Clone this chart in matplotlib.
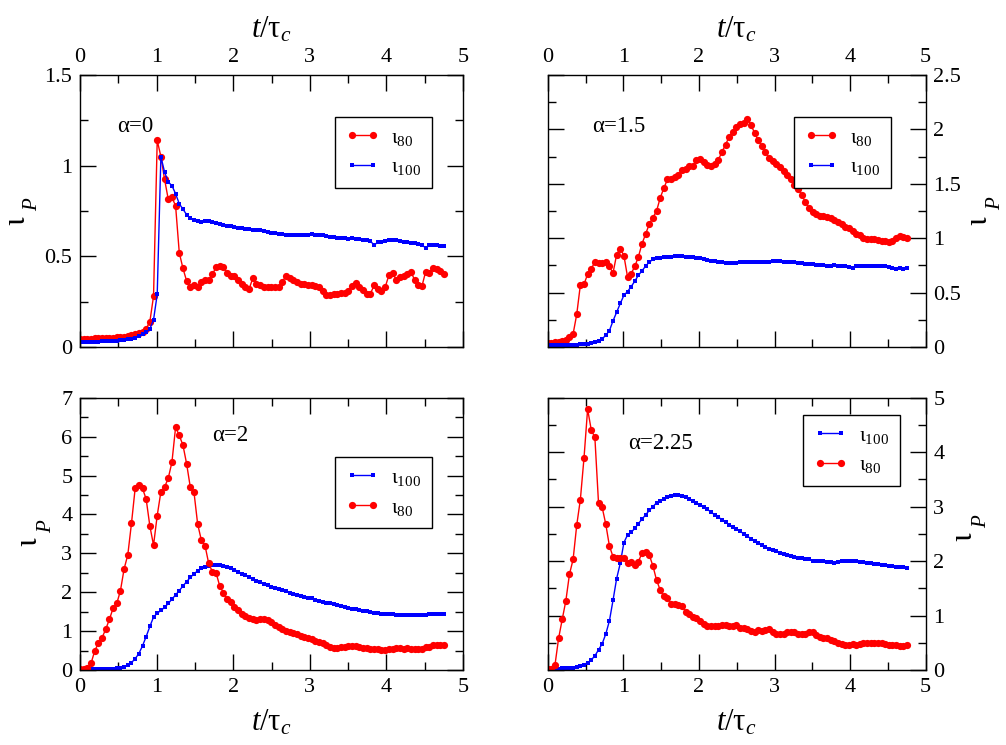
import numpy as np
import matplotlib
matplotlib.use('Agg')
import matplotlib.pyplot as plt
from matplotlib.ticker import MultipleLocator, FuncFormatter

plt.rcParams['font.family'] = ['Liberation Serif', 'DejaVu Serif']
plt.rcParams['mathtext.fontset'] = 'custom'
plt.rcParams['mathtext.rm'] = 'Liberation Serif'
plt.rcParams['mathtext.it'] = 'Liberation Serif:italic'
plt.rcParams['mathtext.bf'] = 'Liberation Serif:bold'

# time step of the samples (t / tau_c)
DT = 0.048

# ---------------- alpha = 0 ----------------
a0_i80 = [0.045, 0.045, 0.046, 0.046, 0.047, 0.047, 0.048, 0.049, 0.050, 0.051,
          0.053, 0.055, 0.057, 0.060, 0.064, 0.070, 0.078, 0.085, 0.10, 0.14,
          0.28, 1.14, 1.05, 0.925, 0.815, 0.826, 0.778, 0.52, 0.434, 0.364,
          0.333, 0.34, 0.33, 0.36, 0.37, 0.37, 0.40, 0.44, 0.445, 0.44,
          0.41, 0.39, 0.39, 0.37, 0.35, 0.33, 0.32, 0.38, 0.35, 0.34,
          0.33, 0.33, 0.33, 0.33, 0.33, 0.36, 0.39, 0.38, 0.37, 0.36,
          0.35, 0.345, 0.34, 0.34, 0.335, 0.33, 0.31, 0.285, 0.285, 0.29,
          0.295, 0.30, 0.30, 0.31, 0.335, 0.355, 0.33, 0.315, 0.295, 0.295,
          0.34, 0.32, 0.31, 0.33, 0.395, 0.41, 0.37, 0.385, 0.39, 0.405,
          0.415, 0.37, 0.34, 0.335, 0.415, 0.41, 0.435, 0.43, 0.42, 0.40]
a0_i100 = [0.028, 0.028, 0.029, 0.029, 0.030, 0.030, 0.031, 0.032, 0.033, 0.034,
           0.035, 0.037, 0.039, 0.042, 0.046, 0.052, 0.060, 0.070, 0.08, 0.10,
           0.15, 0.29, 1.05, 0.965, 0.91, 0.89, 0.845, 0.79, 0.76, 0.73,
           0.71, 0.70, 0.695, 0.69, 0.695, 0.695, 0.69, 0.685, 0.68, 0.675,
           0.67, 0.665, 0.66, 0.655, 0.655, 0.65, 0.65, 0.645, 0.645, 0.645,
           0.64, 0.635, 0.63, 0.63, 0.625, 0.625, 0.62, 0.62, 0.615, 0.615,
           0.615, 0.615, 0.62, 0.625, 0.62, 0.615, 0.615, 0.61, 0.605, 0.605,
           0.60, 0.60, 0.60, 0.595, 0.60, 0.595, 0.595, 0.59, 0.59, 0.585,
           0.56, 0.58, 0.58, 0.585, 0.59, 0.59, 0.59, 0.585, 0.58, 0.58,
           0.575, 0.575, 0.57, 0.565, 0.545, 0.56, 0.56, 0.56, 0.555, 0.555]

# ---------------- alpha = 1.5 ----------------
a15_i80 = [0.04, 0.04, 0.045, 0.05, 0.055, 0.065, 0.09, 0.12, 0.30, 0.57,
           0.575, 0.67, 0.72, 0.78, 0.77, 0.77, 0.78, 0.74, 0.68, 0.85,
           0.905, 0.84, 0.645, 0.675, 0.74, 0.83, 0.95, 1.04, 1.13, 1.19,
           1.25, 1.37, 1.46, 1.54, 1.545, 1.56, 1.58, 1.625, 1.64, 1.665,
           1.66, 1.72, 1.73, 1.70, 1.67, 1.665, 1.68, 1.72, 1.79, 1.86,
           1.93, 1.98, 2.02, 2.05, 2.06, 2.10, 2.04, 1.97, 1.90, 1.85,
           1.79, 1.74, 1.71, 1.68, 1.65, 1.62, 1.58, 1.54, 1.49, 1.45,
           1.40, 1.33, 1.28, 1.24, 1.22, 1.20, 1.20, 1.195, 1.19, 1.17,
           1.15, 1.13, 1.105, 1.09, 1.065, 1.04, 1.03, 1.005, 0.99, 0.99,
           0.99, 0.98, 0.975, 0.97, 0.966, 0.975, 1.005, 1.02, 1.01, 1.00]
a15_i100 = [0.02, 0.02, 0.02, 0.02, 0.02, 0.021, 0.021, 0.022, 0.022, 0.023,
            0.025, 0.028, 0.033, 0.042, 0.055, 0.075, 0.107, 0.15, 0.24, 0.32,
            0.40, 0.475, 0.51, 0.555, 0.605, 0.66, 0.70, 0.745, 0.78, 0.805,
            0.815, 0.82, 0.825, 0.828, 0.83, 0.832, 0.832, 0.832, 0.83, 0.83,
            0.825, 0.82, 0.815, 0.81, 0.80, 0.795, 0.79, 0.785, 0.78, 0.775,
            0.775, 0.775, 0.775, 0.778, 0.78, 0.78, 0.78, 0.78, 0.782, 0.782,
            0.785, 0.785, 0.787, 0.787, 0.787, 0.785, 0.783, 0.78, 0.778, 0.775,
            0.77, 0.765, 0.76, 0.76, 0.755, 0.75, 0.75, 0.748, 0.745, 0.75,
            0.748, 0.745, 0.74, 0.735, 0.73, 0.74, 0.745, 0.745, 0.742, 0.74,
            0.74, 0.742, 0.745, 0.74, 0.732, 0.725, 0.72, 0.725, 0.72, 0.722]

# ---------------- alpha = 2 ----------------
a2_i80 = [0.03, 0.02, 0.04, 0.17, 0.49, 0.69, 0.83, 1.05, 1.30, 1.59,
          1.71, 2.04, 2.60, 2.96, 3.77, 4.67, 4.76, 4.67, 4.39, 3.70,
          3.21, 3.97, 4.58, 4.70, 4.93, 5.34, 6.24, 6.03, 5.78, 5.30,
          4.70, 4.57, 3.75, 3.34, 3.20, 2.74, 2.53, 2.50, 2.16, 1.99,
          1.82, 1.74, 1.63, 1.53, 1.43, 1.39, 1.33, 1.30, 1.29, 1.30,
          1.30, 1.29, 1.24, 1.16, 1.11, 1.05, 1.00, 0.98, 0.94, 0.92,
          0.88, 0.86, 0.81, 0.79, 0.75, 0.73, 0.69, 0.64, 0.60, 0.57,
          0.56, 0.58, 0.60, 0.62, 0.62, 0.62, 0.60, 0.57, 0.56, 0.54,
          0.53, 0.53, 0.51, 0.51, 0.53, 0.55, 0.57, 0.57, 0.55, 0.57,
          0.55, 0.53, 0.53, 0.55, 0.58, 0.60, 0.63, 0.64, 0.65, 0.64]
a2_i100 = [0.02, 0.02, 0.02, 0.02, 0.02, 0.025, 0.025, 0.03, 0.03, 0.035,
           0.04, 0.05, 0.08, 0.12, 0.19, 0.29, 0.42, 0.62, 0.86, 1.12,
           1.36, 1.46, 1.53, 1.61, 1.71, 1.82, 1.93, 2.04, 2.16, 2.27,
           2.38, 2.47, 2.55, 2.61, 2.65, 2.68, 2.70, 2.70, 2.70, 2.68,
           2.655, 2.625, 2.58, 2.53, 2.48, 2.43, 2.39, 2.34, 2.30, 2.26,
           2.22, 2.18, 2.14, 2.11, 2.08, 2.05, 2.02, 1.99, 1.96, 1.93,
           1.91, 1.88, 1.86, 1.84, 1.81, 1.78, 1.76, 1.73, 1.71, 1.69,
           1.67, 1.645, 1.62, 1.60, 1.58, 1.56, 1.54, 1.52, 1.505, 1.49,
           1.475, 1.46, 1.45, 1.44, 1.435, 1.43, 1.425, 1.42, 1.42, 1.42,
           1.42, 1.42, 1.42, 1.42, 1.425, 1.43, 1.43, 1.435, 1.44, 1.44]

# ---------------- alpha = 2.25 ----------------
a225_i80 = [0.02, 0.02, 0.09, 0.58, 0.93, 1.27, 1.76, 2.03, 2.66, 3.13,
            3.89, 4.79, 4.41, 4.27, 3.07, 2.99, 2.68, 2.28, 2.08, 2.06,
            2.05, 2.06, 1.97, 1.99, 1.93, 1.99, 2.15, 2.17, 2.11, 1.91,
            1.65, 1.47, 1.35, 1.33, 1.22, 1.21, 1.19, 1.18, 1.07, 1.02,
            0.98, 0.95, 0.90, 0.84, 0.81, 0.80, 0.80, 0.81, 0.83, 0.83,
            0.81, 0.81, 0.83, 0.78, 0.765, 0.75, 0.72, 0.70, 0.73, 0.72,
            0.73, 0.75, 0.70, 0.67, 0.66, 0.67, 0.69, 0.70, 0.69, 0.67,
            0.66, 0.67, 0.69, 0.70, 0.64, 0.61, 0.58, 0.59, 0.56, 0.54,
            0.50, 0.48, 0.45, 0.46, 0.47, 0.46, 0.48, 0.50, 0.50, 0.50,
            0.50, 0.49, 0.49, 0.48, 0.46, 0.46, 0.45, 0.44, 0.44, 0.46]
a225_i100 = [0.02, 0.02, 0.022, 0.025, 0.028, 0.032, 0.038, 0.045, 0.055, 0.07,
             0.09, 0.12, 0.185, 0.26, 0.37, 0.48, 0.66, 0.90, 1.28, 1.68,
             1.96, 2.34, 2.48, 2.53, 2.60, 2.69, 2.77, 2.85, 2.93, 3.00,
             3.07, 3.11, 3.14, 3.17, 3.19, 3.205, 3.21, 3.20, 3.17, 3.14,
             3.11, 3.07, 3.03, 2.99, 2.95, 2.90, 2.85, 2.81, 2.76, 2.72,
             2.67, 2.63, 2.59, 2.55, 2.50, 2.46, 2.41, 2.37, 2.33, 2.29,
             2.26, 2.23, 2.20, 2.18, 2.15, 2.135, 2.11, 2.10, 2.08, 2.06,
             2.05, 2.04, 2.03, 2.01, 2.01, 2.00, 2.00, 1.985, 1.975, 1.965,
             1.99, 2.00, 2.005, 2.01, 2.005, 2.00, 1.99, 1.98, 1.97, 1.96,
             1.95, 1.945, 1.935, 1.925, 1.915, 1.91, 1.90, 1.89, 1.885, 1.88]

x_ticks = [0, 1, 2, 3, 4, 5]

W, H = 1006, 745
fig = plt.figure(figsize=(W / 100, H / 100), dpi=100)


def add_ax(l, t, r, b):
    return fig.add_axes([l / W, 1 - b / H, (r - l) / W, (b - t) / H])


def ftext(x, y, s, **kw):
    fig.text(x / W, 1 - y / H, s, **kw)


fmt = FuncFormatter(lambda v, p: '%g' % v)

RED = dict(color='#ff0000', lw=1.0, marker='o', ms=5.2, mfc='#ff0000',
           mec='#ff0000', mew=0)
BLUE = dict(color='#0000ff', lw=1.0, marker='s', ms=2.6, mfc='#0000ff',
            mec='#0000ff', mew=0)

panels = [
    dict(rect=(80, 75, 463, 347), ymax=1.5, ymaj=0.5, ymin=0.25,
         top=True, right=False, order=('80', '100'), italic=True,
         series={'80': a0_i80, '100': a0_i100},
         alpha='α=0', apos=(0.479, 1.187), leg=(0.666, 0.846),
         ylab=((25, 221), (37, 204))),
    dict(rect=(547.7, 75, 925.7, 347), ymax=2.5, ymaj=0.5, ymin=0.25,
         top=True, right=True, order=('80', '100'), italic=False,
         series={'80': a15_i80, '100': a15_i100},
         alpha='α=1.5', apos=(0.582, 1.979), leg=(0.652, 0.846),
         ylab=((987, 221), (1000, 203))),
    dict(rect=(80, 397.7, 463, 670), ymax=7, ymaj=1, ymin=0.5,
         top=False, right=False, order=('100', '80'), italic=False,
         series={'80': a2_i80, '100': a2_i100},
         alpha='α=2', apos=(1.72, 5.89), leg=(0.666, 0.782),
         ylab=((37, 542), (51, 526))),
    dict(rect=(547.7, 397.7, 925.7, 670), ymax=5, ymaj=1, ymin=0.5,
         top=False, right=True, order=('100', '80'), italic=False,
         series={'80': a225_i80, '100': a225_i100},
         alpha='α=2.25', apos=(1.063, 4.06), leg=(0.675, 0.9375),
         ylab=((972, 537), (986, 521))),
]

for p in panels:
    ax = add_ax(*p['rect'])
    for key in p['order']:
        y = np.asarray(p['series'][key])
        t = DT * np.arange(len(y))
        style = RED if key == '80' else BLUE
        if p['italic']:
            lab = 'ι$_{\\mathit{%s}}$' % key
        else:
            lab = 'ι$_{%s}$' % key
        ax.plot(t, y, label=lab, **style)
    ax.set_xlim(0, 5)
    ax.set_ylim(0, p['ymax'])
    ax.set_xticks(x_ticks)
    ax.xaxis.set_minor_locator(MultipleLocator(0.5))
    ax.yaxis.set_major_locator(MultipleLocator(p['ymaj']))
    ax.yaxis.set_minor_locator(MultipleLocator(p['ymin']))
    ax.xaxis.set_major_formatter(fmt)
    ax.yaxis.set_major_formatter(fmt)
    ax.tick_params(which='both', direction='in', top=True, bottom=True,
                   left=True, right=True, width=1.0,
                   labeltop=p['top'], labelbottom=not p['top'],
                   labelleft=not p['right'], labelright=p['right'],
                   labelsize=16, pad=5.5)
    ax.tick_params(which='major', length=11.5)
    ax.tick_params(which='minor', length=6)
    for s in ax.spines.values():
        s.set_linewidth(1.0)
    if p['top']:
        ax.xaxis.set_label_position('top')
    ax.set_xlabel('$t$/τ$_c$', fontsize=22, labelpad=8)
    # y label: big iota with italic subscript P
    (ix, iy), (px, py) = p['ylab']
    ftext(ix, iy, r'$\mathrm{\iota}$', fontsize=23, rotation=90,
          rotation_mode='anchor', ha='center', va='baseline')
    ftext(px, py, r'$P$', fontsize=15, rotation=90,
          rotation_mode='anchor', ha='center', va='baseline')
    ax.text(p['apos'][0], p['apos'][1], p['alpha'], fontsize=16.5,
            va='baseline', ha='left')
    leg = ax.legend(loc='upper left', bbox_to_anchor=p['leg'],
                    borderaxespad=0, fontsize=15.5, frameon=True,
                    fancybox=False, edgecolor='black', framealpha=1,
                    numpoints=2, handlelength=1.55, handletextpad=0.55,
                    borderpad=0.5, labelspacing=0.45)
    leg.get_frame().set_linewidth(1.0)

fig.savefig('out.png', dpi=100)
